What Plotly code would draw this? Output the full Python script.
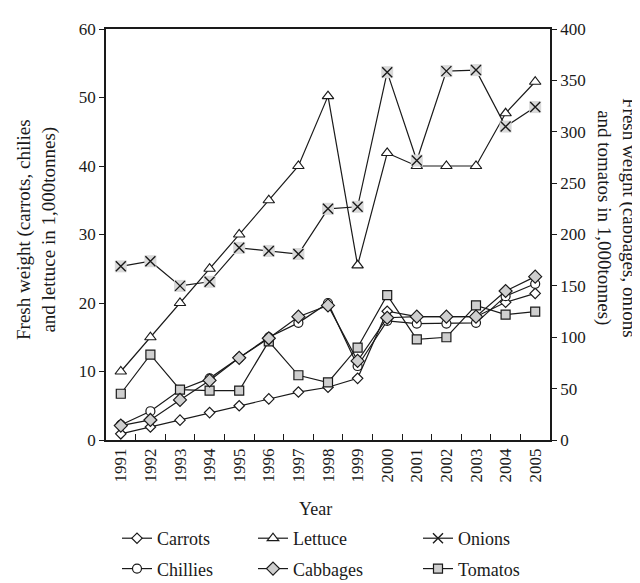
import plotly.graph_objects as go

years = [str(y) for y in range(1991, 2006)]
carrots = [0.9, 1.9, 2.9, 4.0, 5.0, 6.0, 7.0, 7.7, 9.0, 18.8, 18.0, 18.0, 18.0, 20.1, 21.4]
lettuce = [10, 15, 20, 25, 30, 35, 40, 50.2, 25.5, 41.9, 40, 40, 40, 47.7, 52.3]
chillies = [2.2, 4.2, 7.3, 9.0, 12.0, 15.0, 17.1, 20.0, 10.8, 17.4, 17.0, 17.0, 17.1, 21.0, 22.8]
onions = [169, 174, 150, 154, 187, 184, 181, 225, 227, 358, 272, 359, 360, 305, 324]
cabbages = [14, 19.5, 39, 58, 80, 99, 120, 131, 77, 119, 120, 120, 120, 145, 159]
tomatos = [45, 83, 49, 48, 48, 96, 63, 56, 90, 141, 98, 100, 131, 122, 125]

FONT = "Liberation Serif"
BLACK = "#1a1a1a"
GRAY = "#cfcfcf"
LW = 1.2

# plot-area pixel box (used to place texts/legends in paper coordinates)
L, R, T, B = 98, 542, 21, 432
def px(x):
    return (x - L) / (R - L)
def py(y):
    return (B - y) / (B - T)

fig = go.Figure()

def add(name, y, symbol, size, fill, yaxis, legend, rank=1, mode="lines+markers",
        showlegend=True, lw=LW, mlw=1.2):
    fig.add_trace(go.Scatter(
        x=years if y is not None else [years[0]], y=y if y is not None else [None],
        name=name, mode=mode, yaxis=yaxis, legend=legend, legendgroup=name,
        legendrank=rank, showlegend=showlegend,
        line=dict(color=BLACK, width=lw),
        marker=dict(symbol=symbol, size=size, color=fill,
                    line=dict(color=BLACK, width=mlw)),
    ))

# right-axis series
add("Tomatos", tomatos, "square", 9, GRAY, "y2", "legend3", rank=2)
add("Cabbages", cabbages, "diamond", 10, GRAY, "y2", "legend2", rank=2)
# onions: line, gray square background, x markers
add("Onions_line", onions, "circle", 1, BLACK, "y2", "legend3", mode="lines", showlegend=False)
fig.add_trace(go.Scatter(x=years, y=onions, mode="markers", yaxis="y2", showlegend=False,
                         marker=dict(symbol="square", size=12, color="#d9d9d9", line=dict(width=0))))
add("Onions_x", onions, "x-thin", 10, BLACK, "y2", "legend3", mode="markers", showlegend=False, mlw=1.4)
# left-axis series
add("Carrots", carrots, "diamond", 8, "white", "y", "legend", rank=1)
add("Chillies", chillies, "circle", 9, "white", "y", "legend", rank=2)
add("Lettuce", lettuce, "triangle-up", 10, "white", "y", "legend2", rank=1)
# legend entry for onions (line + x marker)
add("Onions", None, "x-thin", 10, BLACK, "y2", "legend3", rank=1, mlw=1.4)

tickfont = dict(family=FONT, size=17, color=BLACK)
legfont = dict(family=FONT, size=18, color=BLACK)
titlefont = dict(family=FONT, size=19, color=BLACK)

def leg(xpx):
    return dict(x=px(xpx), xref="paper", xanchor="left",
                y=py(512), yref="paper", yanchor="top",
                orientation="v", font=legfont, bgcolor="rgba(0,0,0,0)",
                tracegroupgap=4, traceorder="grouped")

fig.update_layout(
    width=640, height=583,
    margin=dict(l=L, r=640 - R, t=T, b=583 - B, autoexpand=False),
    plot_bgcolor="white", paper_bgcolor="white",
    font=dict(family=FONT, color=BLACK),
    xaxis=dict(type="category", range=[-0.5, 14.5], tickson="boundaries",
               ticks="inside", ticklen=6, tickwidth=1.2, tickcolor=BLACK,
               tickangle=-90, tickfont=tickfont, showgrid=False, zeroline=False,
               showline=True, linecolor=BLACK, linewidth=1.6, mirror=True),
    yaxis=dict(range=[0, 60], dtick=10, ticks="outside", ticklen=5, tickcolor=BLACK,
               tickfont=tickfont, showgrid=False, zeroline=False,
               showline=True, linecolor=BLACK, linewidth=1.6),
    yaxis2=dict(range=[0, 400], dtick=50, ticks="outside", ticklen=5, tickcolor=BLACK,
                tickfont=tickfont, showgrid=False, zeroline=False, overlaying="y",
                side="right", showline=True, linecolor=BLACK, linewidth=1.6),
    legend=leg(109),
    legend2=leg(245),
    legend3=leg(410),
    annotations=[
        dict(text="Fresh weight (carrots, chilies<br>and lettuce in 1,000tonnes)",
             x=px(29), y=py(222), xref="paper", yref="paper", showarrow=False, textangle=-90,
             xanchor="center", yanchor="middle", font=titlefont),
        dict(text="Fresh weight (cabbages, onions<br>and tomatos in 1,000tonnes)",
             x=px(609), y=py(210), xref="paper", yref="paper", showarrow=False, textangle=90,
             xanchor="center", yanchor="middle", font=titlefont),
        dict(text="Year", x=px(307), y=py(501), xref="paper", yref="paper", showarrow=False,
             xanchor="center", yanchor="middle", font=legfont),
    ],
)

fig.write_html("out.html")
